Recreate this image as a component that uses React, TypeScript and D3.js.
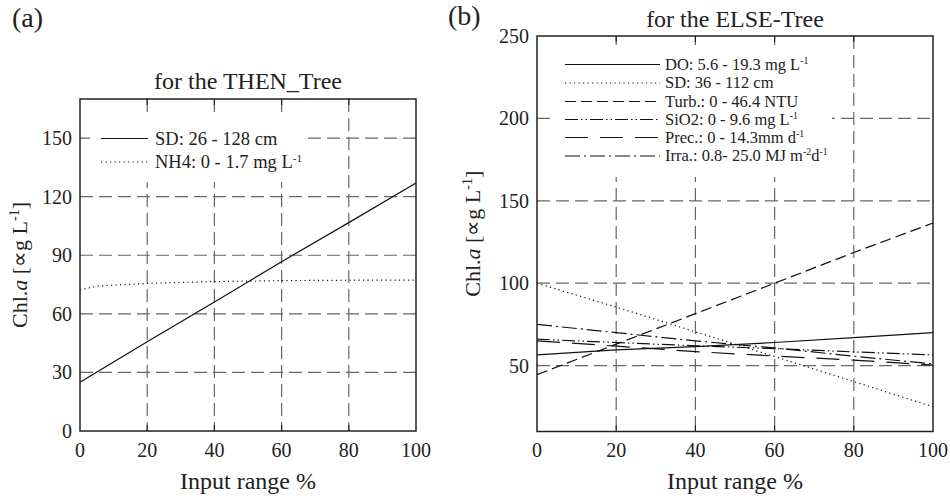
import React from "react";
import * as d3 from "d3";

// x positions (input range %)
const inputPct = [0, 20, 40, 60, 80, 100];
const nh4Pct = [0, 5, 20, 40, 60, 80, 100];

// (a) THEN tree
const thenSD = [25, 45.7, 66, 86.7, 106.7, 127];
const thenNH4 = [72.2, 74.2, 75.6, 76.5, 77, 77.2, 77.3];

// (b) ELSE tree
const elseDO = [56.5, 59.5, 61.5, 64, 67, 70];
const elseSD = [100, 85.5, 70.5, 55.5, 40.3, 25];
const elseTurb = [44.5, 63, 81.5, 100, 118.6, 136.5];
const elseSiO2 = [66, 64, 62, 60.3, 58.3, 56.5];
const elsePrec = [65, 61.8, 58.5, 55.8, 53.3, 50.3];
const elseIrra = [75, 70, 65, 60.7, 55.7, 51];

const xTicks = [0, 20, 40, 60, 80, 100];
const thenYTicks = [0, 30, 60, 90, 120, 150];
const elseYTicks = [50, 100, 150, 200, 250];

type Seg = { t: string; sup?: boolean };
const thenLabels: Seg[][] = [
  [{ t: "SD: 26 - 128 cm" }],
  [{ t: "NH4: 0 - 1.7 mg L" }, { t: "-1", sup: true }],
];
const elseLabels: Seg[][] = [
  [{ t: "DO: 5.6 - 19.3 mg L" }, { t: "-1", sup: true }],
  [{ t: "SD: 36 - 112 cm" }],
  [{ t: "Turb.: 0 - 46.4 NTU" }],
  [{ t: "SiO2: 0 - 9.6 mg L" }, { t: "-1", sup: true }],
  [{ t: "Prec.: 0 - 14.3mm d" }, { t: "-1", sup: true }],
  [{ t: "Irra.: 0.8- 25.0 MJ m" }, { t: "-2", sup: true }, { t: "d" }, { t: "-1", sup: true }],
];

const DASH = {
  solid: undefined,
  dotted: "1.2,3.3",
  dashed: "11,5",
  dashDotDot: "13,3,1.5,3,1.5,3",
  longDash: "23,12",
  dashDot: "15,4,2,4",
};

const FONT = "'Liberation Serif', 'Times New Roman', serif";

function Segs({ segs, size }: { segs: Seg[]; size: number }) {
  let raised = false;
  const up = Math.round(size * 0.35);
  return (
    <>
      {segs.map((s, i) => {
        let dy = 0;
        if (s.sup && !raised) { dy = -up; raised = true; }
        else if (!s.sup && raised) { dy = up; raised = false; }
        return (
          <tspan key={i} dy={dy} fontSize={s.sup ? size * 0.6 : undefined}>{s.t}</tspan>
        );
      })}
    </>
  );
}

type Series = { xs: number[]; ys: number[]; dash?: string };

type PanelProps = {
  left: number; right: number; top: number; bottom: number;
  yDomain: [number, number];
  yTicks: number[];
  series: Series[];
  labels: Seg[][];
  legendSize: number;
  box: [number, number, number, number];
  sampleX: [number, number];
  textX: number;
  rowY: number[];
  title: string;
  titleY: number;
  tag: string;
  tagX: number;
  tagY: number;
  yLabelX: number;
  yTickX: number;
};

function Panel(p: PanelProps) {
  const x = d3.scaleLinear().domain([0, 100]).range([p.left, p.right]);
  const y = d3.scaleLinear().domain(p.yDomain).range([p.bottom, p.top]);
  const line = d3.line<[number, number]>().x((d) => x(d[0])).y((d) => y(d[1]));
  const cx = (p.left + p.right) / 2;
  const cy = (p.top + p.bottom) / 2;
  const innerX = xTicks.filter((t) => t > 0 && t < 100);
  const innerY = p.yTicks.filter((t) => y(t) > p.top + 1 && y(t) < p.bottom - 1);
  const [bx0, by0, bx1, by1] = p.box;
  return (
    <g fontFamily={FONT} fill="#222">
      {/* grid */}
      {innerX.map((t) => (
        <line key={"gx" + t} x1={x(t)} x2={x(t)} y1={p.top} y2={p.bottom}
          stroke="#666" strokeWidth={1.2} strokeDasharray="13,6" />
      ))}
      {innerY.map((t) => (
        <line key={"gy" + t} x1={p.left} x2={p.right} y1={y(t)} y2={y(t)}
          stroke="#666" strokeWidth={1.2} strokeDasharray="13,6" />
      ))}
      {/* data */}
      {p.series.map((s, i) => (
        <path key={i} d={line(s.xs.map((v, j) => [v, s.ys[j]]) as [number, number][]) || ""}
          fill="none" stroke="#111" strokeWidth={1.2} strokeDasharray={s.dash} />
      ))}
      {/* legend */}
      <rect x={bx0} y={by0} width={bx1 - bx0} height={by1 - by0} fill="#fff" />
      {p.labels.map((segs, i) => (
        <g key={i}>
          <line x1={p.sampleX[0]} x2={p.sampleX[1]} y1={p.rowY[i]} y2={p.rowY[i]}
            stroke="#111" strokeWidth={1.2} strokeDasharray={p.series[i].dash} />
          <text x={p.textX} y={p.rowY[i] + p.legendSize * 0.33} fontSize={p.legendSize}>
            <Segs segs={segs} size={p.legendSize} />
          </text>
        </g>
      ))}
      {/* frame and ticks */}
      <rect x={p.left} y={p.top} width={p.right - p.left} height={p.bottom - p.top}
        fill="none" stroke="#222" strokeWidth={1.5} />
      {innerX.map((t) => (
        <g key={"tx" + t} stroke="#222" strokeWidth={1.2}>
          <line x1={x(t)} x2={x(t)} y1={p.bottom} y2={p.bottom - 6} />
          <line x1={x(t)} x2={x(t)} y1={p.top} y2={p.top + 6} />
        </g>
      ))}
      {xTicks.map((t) => (
        <text key={"lx" + t} x={x(t)} y={457} fontSize={20} textAnchor="middle">{t}</text>
      ))}
      {p.yTicks.map((t) => (
        <text key={"ly" + t} x={p.yTickX} y={y(t) + 7} fontSize={20} textAnchor="end">{t}</text>
      ))}
      <text x={cx} y={489} fontSize={24} textAnchor="middle">Input range %</text>
      <text transform={`translate(${p.yLabelX},${cy}) rotate(-90)`} fontSize={22} textAnchor="middle">
        <tspan>Chl.</tspan><tspan fontStyle="italic">a</tspan><tspan> [∝g L</tspan>
        <tspan dy={-8} fontSize={14}>-1</tspan><tspan dy={8}>]</tspan>
      </text>
      <text x={cx} y={p.titleY} fontSize={24} textAnchor="middle">{p.title}</text>
      <text x={p.tagX} y={p.tagY} fontSize={28}>{p.tag}</text>
    </g>
  );
}

export default function App() {
  return (
    <svg width={950} height={498} style={{ position: "absolute", left: 0, top: 0, background: "#fff" }}>
      <Panel
        left={80} right={416} top={99} bottom={431}
        yDomain={[0, 170]} yTicks={thenYTicks}
        series={[
          { xs: inputPct, ys: thenSD, dash: DASH.solid },
          { xs: nh4Pct, ys: thenNH4, dash: DASH.dotted },
        ]}
        labels={thenLabels}
        legendSize={18.5}
        box={[90, 118, 307, 182]}
        sampleX={[101, 148]} textX={155} rowY={[138.5, 162]}
        title="for the THEN_Tree" titleY={89}
        tag="(a)" tagX={12} tagY={27}
        yLabelX={27} yTickX={72}
      />
      <Panel
        left={537} right={933} top={36} bottom={431.5}
        yDomain={[10, 250]} yTicks={elseYTicks}
        series={[
          { xs: inputPct, ys: elseDO, dash: DASH.solid },
          { xs: inputPct, ys: elseSD, dash: DASH.dotted },
          { xs: inputPct, ys: elseTurb, dash: DASH.dashed },
          { xs: inputPct, ys: elseSiO2, dash: DASH.dashDotDot },
          { xs: inputPct, ys: elsePrec, dash: DASH.longDash },
          { xs: inputPct, ys: elseIrra, dash: DASH.dashDot },
        ]}
        labels={elseLabels}
        legendSize={16.5}
        box={[551, 45, 832, 177]}
        sampleX={[565, 660]} textX={665} rowY={[64.5, 83, 101.5, 119.5, 137.5, 156]}
        title="for the ELSE-Tree" titleY={27}
        tag="(b)" tagX={448} tagY={25}
        yLabelX={480} yTickX={529}
      />
    </svg>
  );
}
